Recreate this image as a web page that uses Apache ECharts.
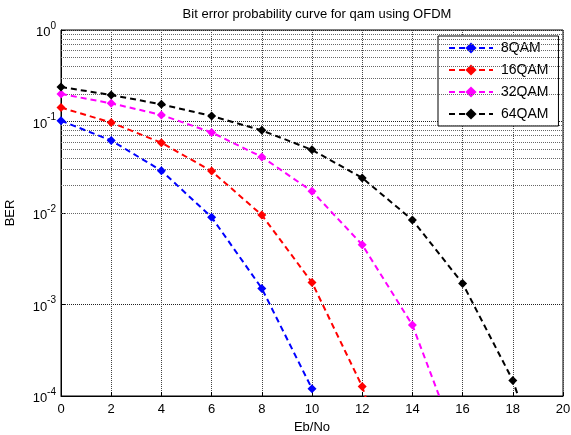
<!DOCTYPE html>
<html>
<head>
<meta charset="utf-8">
<script src="https://cdn.jsdelivr.net/npm/echarts@6/dist/echarts.min.js"></script>
<style>html,body{margin:0;padding:0;background:#fff}#c{width:571px;height:435px}</style>
</head>
<body>
<div id="c"></div>
<script>
const ebno = [0, 2, 4, 6, 8, 10, 12, 14, 16, 18, 20];
const names = ['8QAM', '16QAM', '32QAM', '64QAM'];
const ber8 = [0.102, 0.062, 0.029, 0.0090, 0.0015, 0.00012];
const ber16 = [0.142, 0.0975, 0.0586, 0.0287, 0.0095, 0.00174, 0.000127, 0.0000025];
const ber32 = [0.200, 0.158, 0.118, 0.076, 0.041, 0.0173, 0.0045, 0.000596, 0.000021];
const ber64 = [0.238, 0.195, 0.154, 0.115, 0.080, 0.049, 0.0242, 0.0084, 0.0017, 0.000148, 0.0000037];
const colors = ['#0000ff', '#ff0000', '#ff00ff', '#000000'];
const xTicks = [0, 2, 4, 6, 8, 10, 12, 14, 16, 18, 20];
const yDecades = [1e-4, 1e-3, 1e-2, 1e-1, 1];

const minorVals = [];
for (let d = 0; d < yDecades.length - 1; d++) {
  for (let m = 2; m <= 9; m++) minorVals.push(+(m * yDecades[d]).toPrecision(3));
}

const allData = [ber8, ber16, ber32, ber64];
const FONT = 'Liberation Sans, Arial, sans-serif';

const series = allData.map((arr, i) => ({
  name: names[i],
  type: 'line',
  data: arr.map((v, j) => [ebno[j], v]),
  symbol: 'diamond',
  symbolSize: 9,
  clip: true,
  itemStyle: { color: colors[i] },
  lineStyle: { color: colors[i], width: 2, type: [6, 4] },
  z: 5
}));

series.push({
  name: 'minor',
  type: 'line',
  data: [],
  silent: true,
  z: 1,
  markLine: {
    silent: true,
    symbol: 'none',
    label: { show: false },
    lineStyle: { color: '#666', type: [1, 1], width: 1 },
    emphasis: { disabled: true },
    data: minorVals.map(v => ({ yAxis: v }))
  }
});

const chart = echarts.init(document.getElementById('c'), null, { renderer: 'canvas' });
chart.setOption({
  animation: false,
  backgroundColor: '#fff',
  title: {
    text: 'Bit error probability curve for qam using OFDM',
    left: 312, top: 3, textAlign: 'center',
    textStyle: { fontFamily: FONT, fontSize: 13, fontWeight: 'normal', color: '#000' }
  },
  grid: { left: 61, right: 8, top: 30, bottom: 39, containLabel: false, outerBoundsMode: 'none', show: true, borderColor: '#000', borderWidth: 1, backgroundColor: 'transparent' },
  legend: {
    data: names,
    left: 438, top: 36,
    orient: 'vertical',
    itemWidth: 44, itemHeight: 14, itemGap: 8,
    padding: [5, 10, 5, 10],
    backgroundColor: '#fff',
    borderColor: '#000', borderWidth: 1,
    textStyle: { fontFamily: FONT, fontSize: 14, color: '#000', padding: [0, 0, 0, 3] }
  },
  xAxis: {
    type: 'value', min: 0, max: 20, interval: 2,
    name: 'Eb/No', nameLocation: 'middle', nameGap: 23,
    nameTextStyle: { fontFamily: FONT, fontSize: 13, color: '#000' },
    axisLine: { show: true, lineStyle: { color: '#000', width: 1 } },
    axisTick: { show: true, inside: true, length: 4, lineStyle: { color: '#000' } },
    axisLabel: { fontFamily: FONT, fontSize: 13, color: '#000', margin: 7, formatter: v => xTicks.includes(v) ? String(v) : '' },
    splitLine: { show: true, lineStyle: { color: '#444', type: [1, 1], width: 1 } }
  },
  yAxis: {
    type: 'log', logBase: 10, min: 1e-4, max: 1,
    name: 'BER', nameLocation: 'middle', nameGap: 44, nameRotate: 90,
    nameTextStyle: { fontFamily: FONT, fontSize: 13, color: '#000' },
    axisLine: { show: true, lineStyle: { color: '#000', width: 1 } },
    axisTick: { show: true, inside: true, length: 4, lineStyle: { color: '#000' } },
    axisLabel: {
      margin: 5,
      formatter: v => '{b|10}{s|' + Math.round(Math.log10(v)) + '}',
      rich: {
        b: { fontFamily: FONT, fontSize: 13, color: '#000', lineHeight: 18, verticalAlign: 'bottom' },
        s: { fontFamily: FONT, fontSize: 10, color: '#000', lineHeight: 10, verticalAlign: 'top' }
      }
    },
    splitLine: { show: true, lineStyle: { color: '#222', type: [1, 1], width: 1 } }
  },
  series: series
});
</script>
</body>
</html>
